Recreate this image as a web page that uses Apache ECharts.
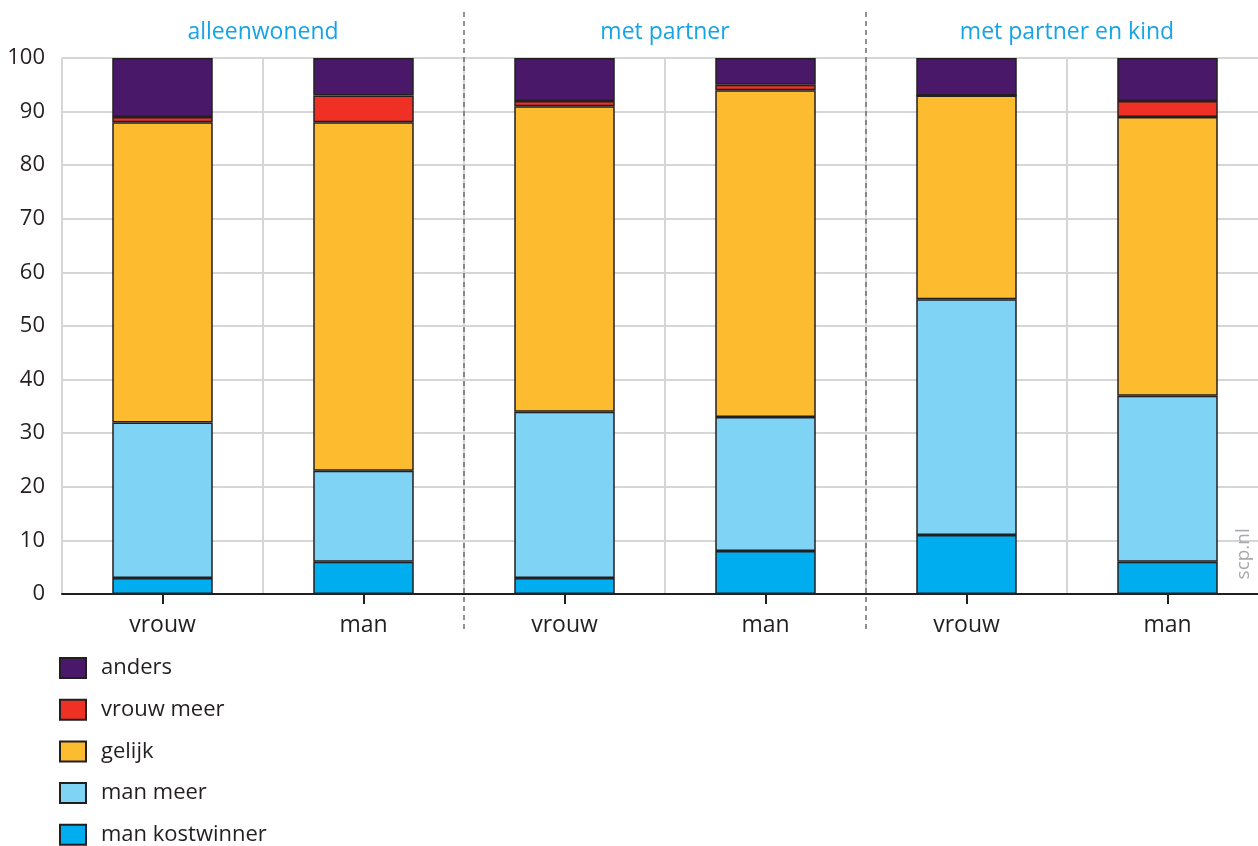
<!DOCTYPE html>
<html>
<head>
<meta charset="utf-8">
<script src="https://cdn.jsdelivr.net/npm/echarts@6/dist/echarts.min.js"></script>
<style>html,body{margin:0;padding:0;background:#fff}#c{width:1258px;height:846px}</style>
</head>
<body>
<div id="c"></div>
<script>
const categories = ['vrouw','man','vrouw','man','vrouw','man'];
const groups = ['alleenwonend','met partner','met partner en kind'];
const yTicks = [0,10,20,30,40,50,60,70,80,90,100];
const manKostwinner = [3, 6, 3, 8, 11, 6];
const manMeer = [29, 17, 31, 25, 44, 31];
const gelijk = [56, 65, 57, 61, 38, 52];
const vrouwMeer = [1, 5, 1, 1, 0, 3];
const anders = [11, 7, 8, 5, 7, 8];

const seriesDefs = [
  {name:'man kostwinner', data: manKostwinner, color:'#00adee'},
  {name:'man meer', data: manMeer, color:'#7fd3f5'},
  {name:'gelijk', data: gelijk, color:'#fdbb2f'},
  {name:'vrouw meer', data: vrouwMeer, color:'#ee3124'},
  {name:'anders', data: anders, color:'#491868'}
];
const FONT = '"Open Sans", "Noto Sans", sans-serif';
const chart = echarts.init(document.getElementById('c'), null, {renderer:'canvas'});
chart.setOption({
  animation:false,
  textStyle:{fontFamily:FONT},
  grid:{left:62, width:1206, top:58, bottom:252, containLabel:false, outerBoundsMode:'none'},
  xAxis:{
    type:'category', data:categories,
    axisLine:{lineStyle:{color:'#231f20', width:2}},
    axisTick:{show:true, alignWithLabel:true, length:10, lineStyle:{color:'#231f20', width:2}},
    axisLabel:{fontSize:23, color:'#231f20', margin:20, fontFamily:FONT},
    splitLine:{show:true, lineStyle:{color:'#d6d6d6', width:2}}
  },
  yAxis:{
    type:'value', min:0, max:100, interval:10,
    axisLine:{show:false}, axisTick:{show:false},
    axisLabel:{fontSize:22, color:'#231f20', margin:17, fontFamily:FONT,
      formatter: v => yTicks.includes(v) ? String(v) : ''},
    splitLine:{show:true, lineStyle:{color:'#d6d6d6', width:2}}
  },
  legend:{
    orient:'vertical', left:59, top:657, padding:0,
    data:['anders','vrouw meer','gelijk','man meer','man kostwinner'],
    itemWidth:26, itemHeight:20, itemGap:19.7,
    icon:'rect',
    textStyle:{fontSize:22, color:'#231f20', fontFamily:FONT, padding:[0,0,0,10]}
  },
  series: seriesDefs.map(s => ({
    name:s.name, type:'bar', stack:'total', data:s.data, barWidth:'50%',
    itemStyle:{color:s.color, borderColor:'#231f20', borderWidth:1.5}
  }))
});

// Group separators and titles positioned from the axis scale
const centers = categories.map((c,i) => chart.convertToPixel({xAxisIndex:0}, i));
const graphics = [];
for (let g = 0; g < groups.length; g++) {
  const cx = (centers[2*g] + centers[2*g+1]) / 2;
  graphics.push({type:'text', x:cx, y:32, style:{text:groups[g], fill:'#15a4e6', font:'23px ' + FONT, textAlign:'center', textVerticalAlign:'middle'}});
  if (g > 0) {
    const bx = (centers[2*g-1] + centers[2*g]) / 2;
    graphics.push({type:'line', shape:{x1:bx, y1:12, x2:bx, y2:632}, style:{stroke:'#6d6e71', lineWidth:1.5, lineDash:[5,4]}, z:100});
  }
}
const yS = chart.convertToPixel({yAxisIndex:0}, 7.5);
graphics.push({type:'text', x:1244, y:yS, rotation:Math.PI/2, style:{text:'scp.nl', fill:'#a7a9ac', font:'19px ' + FONT, textAlign:'center', textVerticalAlign:'middle'}});
chart.setOption({graphic:graphics});
</script>
</body>
</html>
